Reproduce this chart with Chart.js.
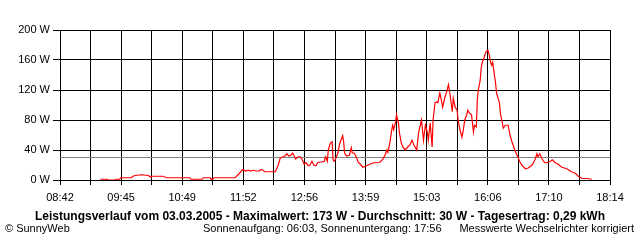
<!DOCTYPE html>
<html>
<head>
<meta charset="utf-8">
<script src="https://cdn.jsdelivr.net/npm/chart.js@4.4.1/dist/chart.umd.min.js"></script>
<style>
	body { margin: 0; background: #fff; }
	canvas { display: block; }
</style>
</head>
<body>
<canvas id="canvas" width="640" height="240"></canvas>
<script>
// time of day in minutes (08:42 = 522)
const minutes = [
	564, 571, 572, 579, 580, 584, 585, 596, 598, 600, 607, 614, 616, 618, 629, 633, 636, 657, 658, 670,
	671, 678, 679, 681, 682, 704, 708, 712, 715, 718, 720, 723, 726, 729, 731, 733, 735, 746, 749, 751,
	754, 756, 758, 760, 762, 764, 766, 767, 770, 772, 774, 776, 778, 780, 782, 784, 786, 788, 790, 792,
	794, 797, 798, 799, 800, 801, 803, 805, 806, 807, 809, 811, 813, 815, 816, 817, 818, 820, 823, 825,
	826, 828, 830, 832, 835, 837, 841, 844, 848, 852, 855, 858, 860, 862, 863, 865, 867, 868, 869, 871,
	872, 874, 875, 877, 879, 881, 883, 886, 888, 890, 893, 895, 898, 900, 902, 904, 905, 907, 909, 910,
	912, 914, 915, 917, 919, 920, 922, 924, 926, 928, 930, 931, 933, 935, 936, 938, 940, 941, 943, 945,
	946, 948, 950, 952, 953, 955, 956, 957, 959, 960, 961, 963, 965, 967, 968, 970, 971, 972, 973, 975,
	976, 979, 980, 982, 983, 985, 988, 990, 992, 995, 998, 1000, 1002, 1006, 1009, 1013, 1016, 1018, 1019, 1021,
	1023, 1026, 1028, 1032, 1034, 1037, 1040, 1044, 1049, 1054, 1058, 1061, 1065, 1071, 1075,
];
const watts = [
	1, 1, 0, 0, 1, 1, 3, 3, 5, 6, 7, 6, 4, 5, 5, 3, 3, 3, 1, 1,
	3, 3, 1, 1, 3, 3, 8, 14, 12, 13, 12, 13, 12, 12, 14, 13, 11, 11, 20, 29,
	31, 32, 35, 32, 33, 36, 31, 28, 31, 31, 27, 21, 23, 19, 20, 25, 20, 19, 23, 24,
	24, 25, 31, 29, 25, 40, 49, 51, 27, 25, 29, 36, 49, 56, 59, 51, 36, 32, 33, 43,
	36, 36, 31, 24, 20, 17, 19, 21, 23, 23, 24, 28, 33, 40, 37, 49, 67, 73, 67, 77,
	87, 76, 63, 49, 43, 40, 43, 47, 53, 47, 40, 64, 80, 53, 73, 64, 53, 76, 44, 80,
	103, 104, 103, 116, 104, 97, 109, 117, 127, 111, 91, 109, 97, 93, 80, 67, 57, 63, 80, 87,
	93, 89, 87, 64, 73, 71, 107, 120, 133, 149, 156, 163, 171, 173, 169, 156, 153, 157, 147, 129,
	116, 103, 89, 76, 69, 73, 73, 60, 51, 40, 31, 25, 20, 15, 16, 20, 27, 35, 31, 35,
	29, 23, 23, 25, 27, 23, 21, 17, 15, 11, 9, 5, 2, 2, 1,
];
const averageW = 30;
const timeLabels = ["08:42", "09:45", "10:49", "11:52", "12:56", "13:59", "15:03", "16:06", "17:10", "18:14"];
const startMin = 522;
const endMin = 1094;

const titleText = "Leistungsverlauf vom 03.03.2005 - Maximalwert: 173 W - Durchschnitt: 30 W - Tagesertrag: 0,29 kWh";
const footLeft = "\u00A9 SunnyWeb";
const footMid = "Sonnenaufgang: 06:03, Sonnenuntergang: 17:56";
const footRight = "Messwerte Wechselrichter korrigiert";

const fontFamily = "\"Liberation Sans\", Arial, sans-serif";

window.onload = () => {
	const ctx = document.getElementById("canvas").getContext("2d");

	const points = minutes.map((m, i) => ({ x: m, y: watts[i] }));

	// redraw the zero line over the curve, and write the footer line
	const extras = {
		id: "extras",
		afterDatasetsDraw(chart) {
			const a = chart.chartArea;
			const c = chart.ctx;
			c.save();
			c.strokeStyle = "#000";
			c.lineWidth = 1;
			c.beginPath();
			c.moveTo(a.left, Math.round(a.bottom - 0.5) + 0.5);
			c.lineTo(a.right, Math.round(a.bottom - 0.5) + 0.5);
			c.stroke();
			c.restore();
		},
		afterDraw(chart) {
			const c = chart.ctx;
			c.save();
			c.fillStyle = "#000";
			c.font = "11px " + fontFamily;
			c.textBaseline = "middle";
			c.textAlign = "left";
			c.fillText(footLeft, 5, 229);
			c.fillText(footMid, 203, 229);
			c.textAlign = "right";
			c.fillText(footRight, 634, 229);
			c.restore();
		},
	};

	const config = {
		type: "line",
		data: {
			datasets: [{
				label: "Leistung",
				data: points,
				borderColor: "#ff0000",
				borderWidth: 1.2,
				pointRadius: 0,
				tension: 0,
				order: 1,
			}, {
				label: "Durchschnitt",
				data: [{ x: startMin, y: averageW }, { x: endMin, y: averageW }],
				borderColor: "#808080",
				borderWidth: 1,
				pointRadius: 0,
				order: 2,
			}],
		},
		options: {
			responsive: false,
			animation: false,
			layout: {
				padding: { top: 30, right: 0, left: 0, bottom: 0 },
			},
			plugins: {
				legend: { display: false },
				tooltip: { enabled: false },
				title: {
					display: true,
					position: "bottom",
					text: titleText,
					color: "#000",
					font: { family: fontFamily, size: 12, weight: "bold", lineHeight: 1 },
					padding: { top: 3, bottom: 17 },
				},
			},
			scales: {
				x: {
					type: "linear",
					min: startMin,
					max: endMin,
					afterFit: (scale) => { scale.height = 28; },
					afterBuildTicks: (scale) => {
						const ticks = [];
						for (let i = 0; i <= 18; i++) {
							ticks.push({ value: startMin + i * (endMin - startMin) / 18 });
						}
						scale.ticks = ticks;
					},
					grid: { color: "#000", lineWidth: 1, tickLength: 5 },
					border: { color: "#000" },
					ticks: {
						autoSkip: false,
						maxRotation: 0,
						padding: 6,
						color: "#000",
						font: { family: fontFamily, size: 11 },
						callback: (value, index) => (index % 2 === 0 ? timeLabels[index / 2] : ""),
					},
				},
				y: {
					min: 0,
					max: 200,
					afterFit: (scale) => { scale.width = 60; },
					grid: { color: "#000", lineWidth: 1, tickLength: 7 },
					border: { color: "#000" },
					ticks: {
						stepSize: 40,
						padding: 3,
						color: "#000",
						font: { family: fontFamily, size: 11 },
						callback: (value) => value + " W",
					},
				},
				// empty right-hand margin, keeps the title centred on the page
				yRight: {
					position: "right",
					min: 0,
					max: 200,
					afterFit: (scale) => { scale.width = 30; },
					grid: { display: false },
					border: { display: false },
					ticks: { display: false },
				},
			},
		},
		plugins: [extras],
	};

	new Chart(ctx, config);
};
</script>
</body>
</html>
